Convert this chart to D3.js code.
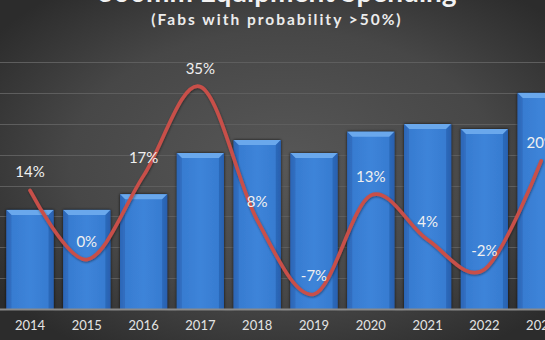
<!DOCTYPE html>
<html>
<head>
<meta charset="utf-8">
<script src="https://cdn.jsdelivr.net/npm/d3@7"></script>
<style>
  html, body { margin: 0; padding: 0; background: #3a3a3a; }
  svg { display: block; font-family: Lato, "Open Sans", sans-serif; }
</style>
</head>
<body>
<svg id="chart" width="545" height="340"></svg>
<script>
// Fab equipment spending (bars, US$B) and year-over-year growth (line)
const years = ["2014", "2015", "2016", "2017", "2018", "2019", "2020", "2021", "2022", "2023"];
const spending = [32.1, 32.1, 37.2, 50.5, 54.7, 50.5, 57.4, 59.9, 58.3, 70.0];
const growth = [0.14, 0.00, 0.17, 0.35, 0.08, -0.07, 0.13, 0.04, -0.02, 0.20];
const spendingTicks = [0, 10, 20, 30, 40, 50, 60, 70, 80];
const titleText = "300mm Equipment Spending";
const subtitleText = "(Fabs with probability >50%)";

const W = 545, H = 340;
const svg = d3.select("#chart");
const defs = svg.append("defs");

// background: soft radial glow on dark gray
const bg = defs.append("radialGradient").attr("id", "bgGrad")
  .attr("cx", "52%").attr("cy", "48%").attr("r", "65%");
bg.append("stop").attr("offset", "0%").attr("stop-color", "#575757");
bg.append("stop").attr("offset", "60%").attr("stop-color", "#474747");
bg.append("stop").attr("offset", "100%").attr("stop-color", "#2c2c2c");
svg.append("rect").attr("width", W).attr("height", H).attr("fill", "url(#bgGrad)");

// bar body gradient
const barGrad = defs.append("linearGradient").attr("id", "barGrad")
  .attr("x1", "0").attr("x2", "1").attr("y1", "0").attr("y2", "0");
barGrad.append("stop").attr("offset", "0%").attr("stop-color", "#2a62b2");
barGrad.append("stop").attr("offset", "8%").attr("stop-color", "#377bd0");
barGrad.append("stop").attr("offset", "50%").attr("stop-color", "#3d84d9");
barGrad.append("stop").attr("offset", "92%").attr("stop-color", "#377bd0");
barGrad.append("stop").attr("offset", "100%").attr("stop-color", "#2a62b2");

const shadow = defs.append("filter").attr("id", "barShadow")
  .attr("x", "-20%").attr("y", "-10%").attr("width", "140%").attr("height", "120%");
shadow.append("feDropShadow").attr("dx", 0).attr("dy", 0).attr("stdDeviation", 1.6)
  .attr("flood-color", "#111").attr("flood-opacity", 0.8);

const lineShadow = defs.append("filter").attr("id", "lineShadow")
  .attr("x", "-10%").attr("y", "-10%").attr("width", "120%").attr("height", "120%");
lineShadow.append("feDropShadow").attr("dx", 0.5).attr("dy", 1).attr("stdDeviation", 1)
  .attr("flood-color", "#000").attr("flood-opacity", 0.45);

const plotTop = 62, plotBottom = 309;

const x = d3.scaleBand().domain(years)
  .range([1.6, 569.6]).paddingInner(0.17).paddingOuter(0.085);
const y = d3.scaleLinear().domain([0, 80]).range([plotBottom, plotTop]);
const y2 = d3.scaleLinear().domain([-0.10, 0.40]).range([plotBottom, plotTop]);

// gridlines
svg.append("g").selectAll("line").data(spendingTicks.slice(1)).join("line")
  .attr("x1", 0).attr("x2", W)
  .attr("y1", d => Math.round(y(d)) + 0.5).attr("y2", d => Math.round(y(d)) + 0.5)
  .attr("stroke", "#5e5e5e").attr("stroke-width", 1.2);

// bars
const bars = svg.append("g").selectAll("g").data(years).join("g")
  .attr("filter", "url(#barShadow)");
bars.append("rect")
  .attr("x", d => x(d)).attr("width", x.bandwidth())
  .attr("y", (d, i) => y(spending[i]))
  .attr("height", (d, i) => plotBottom - y(spending[i]))
  .attr("fill", "url(#barGrad)");
// bevelled top edge
const bev = 5;
bars.append("path")
  .attr("d", (d, i) => {
    const x0 = x(d), x1 = x0 + x.bandwidth(), t = y(spending[i]);
    return `M${x0},${t}L${x1},${t}L${x1 - bev},${t + bev}L${x0 + bev},${t + bev}Z`;
  })
  .attr("fill", "#6aa8ec");
bars.append("path")
  .attr("d", (d, i) => {
    const x0 = x(d), t = y(spending[i]);
    return `M${x0},${t}L${x0 + bev},${t + bev}L${x0 + bev},${plotBottom}L${x0},${plotBottom}Z`;
  })
  .attr("fill", "#2d68b8").attr("opacity", 0.7);
bars.append("path")
  .attr("d", (d, i) => {
    const x1 = x(d) + x.bandwidth(), t = y(spending[i]);
    return `M${x1},${t}L${x1 - bev},${t + bev}L${x1 - bev},${plotBottom}L${x1},${plotBottom}Z`;
  })
  .attr("fill", "#2860ae").attr("opacity", 0.7);

// x axis
const xAxis = svg.append("g").attr("transform", `translate(0,${plotBottom})`)
  .call(d3.axisBottom(x).tickSize(0).tickPadding(12));
xAxis.select(".domain").remove();
svg.append("line").attr("x1", 0).attr("x2", W)
  .attr("y1", plotBottom + 0.5).attr("y2", plotBottom + 0.5)
  .attr("stroke", "#8a8a8a").attr("stroke-width", 2);
xAxis.selectAll("text").attr("fill", "#e4e4e4")
  .style("font-size", "13px").style("font-family", "Lato, 'Open Sans', sans-serif");

// growth line
const cx = d => x(d) + x.bandwidth() / 2;
const line = d3.line()
  .x((d, i) => cx(years[i]))
  .y(d => y2(d))
  .curve(d3.curveCatmullRom.alpha(0));
svg.append("path").datum(growth)
  .attr("d", line)
  .attr("fill", "none").attr("stroke", "#c8504a").attr("stroke-width", 3.6)
  .attr("stroke-linecap", "round")
  .attr("filter", "url(#lineShadow)");

// growth labels (plain hyphen for negatives)
const pct = d => d3.format(".0%")(d).replace("\u2212", "-");
svg.append("g").selectAll("text").data(growth).join("text")
  .attr("x", (d, i) => cx(years[i]))
  .attr("y", d => y2(d) - 19)
  .attr("text-anchor", "middle").attr("dominant-baseline", "central")
  .attr("fill", "#f0f0f0").style("font-size", "15px")
  .text(pct);

// titles
svg.append("text").attr("x", 277).attr("y", 2)
  .attr("text-anchor", "middle").attr("fill", "#f2f2f2")
  .style("font-size", "28px").style("font-weight", "bold")
  .text(titleText);
svg.append("text").attr("x", 277).attr("y", 25)
  .attr("text-anchor", "middle").attr("fill", "#ececec")
  .style("font-size", "15.5px").style("font-weight", "bold")
  .style("letter-spacing", "2px")
  .text(subtitleText);
</script>
</body>
</html>
